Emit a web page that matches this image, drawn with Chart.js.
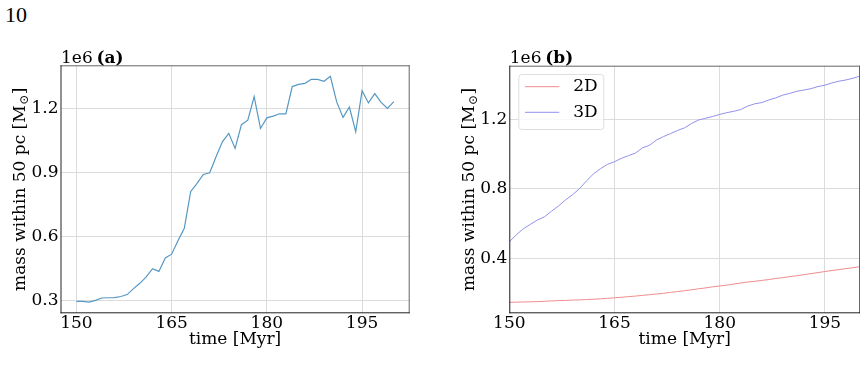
<!DOCTYPE html>
<html>
<head>
<meta charset="utf-8">
<script src="https://cdn.jsdelivr.net/npm/chart.js@4.4.1/dist/chart.umd.min.js"></script>
<style>
  body { margin: 0; background: #fff; width: 867px; height: 367px; overflow: hidden; position: relative; }
  #page { position: absolute; left: 5px; top: 4px; font: 22px "Liberation Serif", serif; line-height: 1; }
  canvas { position: absolute; top: 0; }
</style>
</head>
<body>
<div id="page">10</div>
<canvas id="chartA" width="430" height="367" style="left:0"></canvas>
<canvas id="chartB" width="427" height="367" style="left:440px"></canvas>
<script>
// time axis, Myr
const times = [150, 151, 152, 153, 154, 155, 156, 157, 158, 159,
               160, 161, 162, 163, 164, 165, 166, 167, 168, 169,
               170, 171, 172, 173, 174, 175, 176, 177, 178, 179,
               180, 181, 182, 183, 184, 185, 186, 187, 188, 189,
               190, 191, 192, 193, 194, 195, 196, 197, 198, 199, 200];

// panel (a), units of 1e6 Msun
const massA = [0.295, 0.295, 0.292, 0.300, 0.311, 0.312, 0.313, 0.318, 0.327, 0.355,
               0.380, 0.410, 0.449, 0.436, 0.499, 0.517, 0.580, 0.639, 0.811, 0.850,
               0.892, 0.900, 0.975, 1.045, 1.085, 1.014, 1.126, 1.147, 1.258, 1.108,
               1.158, 1.166, 1.177, 1.177, 1.305, 1.315, 1.320, 1.339, 1.339, 1.330,
               1.353, 1.233, 1.160, 1.209, 1.092, 1.286, 1.228, 1.272, 1.231, 1.202, 1.234];

// panel (b)
const mass2D = [0.147, 0.148, 0.149, 0.150, 0.151, 0.153, 0.155, 0.157, 0.158, 0.160,
                0.161, 0.163, 0.165, 0.167, 0.170, 0.173, 0.176, 0.180, 0.183, 0.187,
                0.191, 0.195, 0.199, 0.204, 0.209, 0.214, 0.219, 0.225, 0.230, 0.236,
                0.241, 0.246, 0.252, 0.258, 0.264, 0.268, 0.273, 0.278, 0.284, 0.289,
                0.295, 0.300, 0.306, 0.312, 0.318, 0.324, 0.330, 0.335, 0.341, 0.346, 0.352];
const mass3D = [0.495, 0.535, 0.570, 0.595, 0.620, 0.638, 0.670, 0.700, 0.735, 0.765,
                0.800, 0.845, 0.885, 0.915, 0.940, 0.955, 0.975, 0.990, 1.005, 1.035,
                1.050, 1.080, 1.100, 1.117, 1.135, 1.150, 1.175, 1.195, 1.205, 1.215,
                1.227, 1.237, 1.245, 1.255, 1.275, 1.288, 1.295, 1.310, 1.322, 1.338,
                1.348, 1.360, 1.367, 1.375, 1.387, 1.395, 1.408, 1.418, 1.425, 1.435, 1.447];

const xTicks = [150, 165, 180, 195];
const yTicksA = [0.3, 0.6, 0.9, 1.2];
const yTicksB = [0.4, 0.8, 1.2];

const FONT = '"DejaVu Serif", serif';
const GRID = '#dcdcdc';

function pts(ys) {
    return ys.map((y, i) => ({x: times[i], y: y}));
}

// frame, offset text, panel tag, y title with subscript, inner legend
const decor = {
    id: 'decor',
    afterDraw(chart, args, opts) {
        const {ctx, chartArea: a} = chart;
        ctx.save();
        ctx.lineWidth = 1;
        ctx.strokeStyle = '#666';
        ctx.beginPath();
        ctx.moveTo(a.left, a.top + 0.5); ctx.lineTo(a.right, a.top + 0.5);
        ctx.moveTo(a.right - 0.5, a.top); ctx.lineTo(a.right - 0.5, a.bottom);
        ctx.stroke();
        ctx.strokeStyle = '#222';
        ctx.beginPath();
        ctx.moveTo(a.left + 0.5, a.top); ctx.lineTo(a.left + 0.5, a.bottom);
        ctx.moveTo(a.left, a.bottom - 0.5); ctx.lineTo(a.right, a.bottom - 0.5);
        ctx.stroke();

        ctx.fillStyle = '#000';
        ctx.textBaseline = 'alphabetic';
        ctx.textAlign = 'left';
        ctx.font = '17px ' + FONT;
        ctx.fillText('1e6', a.left + 0.5, a.top - 2.6);
        ctx.font = 'bold 17px ' + FONT;
        ctx.fillText(opts.tag, a.left + 36, a.top - 2.6);

        // y title
        const main = 'mass within 50 pc [M';
        ctx.font = '17px ' + FONT;
        const w1 = ctx.measureText(main).width;
        ctx.font = '12px ' + FONT;
        const w2 = ctx.measureText('\u2299').width;
        ctx.font = '17px ' + FONT;
        const w3 = ctx.measureText(']').width;
        const total = w1 + w2 + 1 + w3;
        ctx.translate(a.left - 35.7, (a.top + a.bottom) / 2);
        ctx.rotate(-Math.PI / 2);
        let x = -total / 2;
        ctx.fillText(main, x, 0);
        x += w1;
        ctx.font = '12px ' + FONT;
        ctx.fillText('\u2299', x + 0.5, 3);
        x += w2 + 1;
        ctx.font = '17px ' + FONT;
        ctx.fillText(']', x, 0);
        ctx.setTransform(1, 0, 0, 1, 0, 0);

        if (opts.legend) {
            const lx = a.left + 9, ly = a.top + 8.3, lw = 85, lh = 55;
            ctx.beginPath();
            ctx.roundRect(lx + 0.5, ly + 0.5, lw, lh, 3);
            ctx.fillStyle = 'rgba(255,255,255,0.8)';
            ctx.fill();
            ctx.strokeStyle = '#dedede';
            ctx.stroke();
            chart.data.datasets.forEach((ds, i) => {
                const ry = a.top + 21 + i * 25.6;
                ctx.strokeStyle = ds.borderColor;
                ctx.lineWidth = 1;
                ctx.beginPath();
                ctx.moveTo(a.left + 15.7, ry);
                ctx.lineTo(a.left + 50, ry);
                ctx.stroke();
                ctx.fillStyle = '#000';
                ctx.font = '17px ' + FONT;
                ctx.textBaseline = 'middle';
                ctx.fillText(ds.label, a.left + 64, ry);
            });
        }
        ctx.restore();
    }
};

function makeChart(id, datasets, xr, yr, yTicks, yWidth, pad, opts) {
    return new Chart(document.getElementById(id), {
        type: 'line',
        data: {datasets: datasets},
        plugins: [decor],
        options: {
            responsive: false,
            animation: false,
            layout: {padding: pad},
            elements: {point: {radius: 0}, line: {tension: 0}},
            plugins: {legend: {display: false}, tooltip: {enabled: false}, decor: opts},
            scales: {
                x: {
                    type: 'linear', min: xr[0], max: xr[1],
                    afterBuildTicks: (s) => { s.ticks = xTicks.map(v => ({value: v})); },
                    afterFit: (s) => { s.height = 53.7; },
                    grid: {color: GRID, drawTicks: false},
                    border: {display: false},
                    ticks: {font: {family: FONT, size: 17}, color: '#000', padding: 0},
                    title: {display: true, text: 'time [Myr]', font: {family: FONT, size: 17},
                            color: '#000', padding: {top: 0, bottom: 17}}
                },
                y: {
                    min: yr[0], max: yr[1],
                    afterBuildTicks: (s) => { s.ticks = yTicks.map(v => ({value: v})); },
                    afterFit: (s) => { s.width = yWidth; },
                    grid: {color: GRID, drawTicks: false},
                    border: {display: false},
                    ticks: {font: {family: FONT, size: 17}, color: '#000', padding: 2,
                            callback: (v) => v.toFixed(1)}
                }
            }
        }
    });
}

makeChart('chartA',
    [{label: 'a', data: pts(massA), borderColor: 'rgb(86,152,196)', borderWidth: 1.2}],
    [147.5, 202.5], [0.239, 1.405], yTicksA, 60.5,
    {top: 65.3, right: 20.3, left: 0, bottom: 0}, {tag: '(a)', legend: false});

makeChart('chartB',
    [{label: '2D', data: pts(mass2D), borderColor: 'rgb(240,140,140)', borderWidth: 1},
     {label: '3D', data: pts(mass3D), borderColor: 'rgb(145,145,235)', borderWidth: 1}],
    [150, 200], [0.084, 1.507], yTicksB, 69.3,
    {top: 65.7, right: 7, left: 0, bottom: 0}, {tag: '(b)', legend: true});
</script>
</body>
</html>
